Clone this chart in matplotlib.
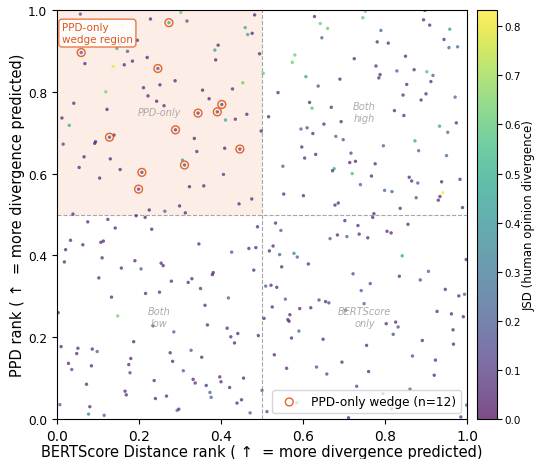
import numpy as np
import matplotlib
matplotlib.use("Agg")
import matplotlib.pyplot as plt

# upper-left quadrant (PPD high, BERTScore low)
ul_bert = [0.057, 0.302, 0.228, 0.273, 0.317, 0.482, 0.159, 0.459, 0.465, 0.476,
           0.196, 0.153, 0.393, 0.385, 0.146, 0.172, 0.059, 0.494, 0.220, 0.184,
           0.387, 0.068, 0.164, 0.137, 0.246, 0.288, 0.251, 0.453, 0.211, 0.428,
           0.355, 0.119, 0.222, 0.371, 0.041, 0.243, 0.402, 0.261, 0.122, 0.391,
           0.344, 0.463, 0.012, 0.411, 0.435, 0.030, 0.289, 0.498, 0.139, 0.128,
           0.335, 0.094, 0.092, 0.015, 0.409, 0.446, 0.341, 0.066, 0.130, 0.306,
           0.311, 0.054, 0.154, 0.207, 0.406, 0.104, 0.358, 0.199, 0.323, 0.475,
           0.444, 0.225, 0.263, 0.299, 0.313, 0.039]
ul_ppd = [0.990, 0.994, 0.978, 0.969, 0.973, 0.988, 0.961, 0.957, 0.940, 0.943,
          0.926, 0.917, 0.914, 0.902, 0.906, 0.899, 0.896, 0.893, 0.884, 0.875,
          0.878, 0.869, 0.866, 0.862, 0.857, 0.827, 0.817, 0.822, 0.810, 0.807,
          0.804, 0.800, 0.790, 0.783, 0.772, 0.777, 0.769, 0.766, 0.757, 0.751,
          0.748, 0.745, 0.736, 0.731, 0.733, 0.718, 0.707, 0.704, 0.694, 0.689,
          0.686, 0.678, 0.674, 0.672, 0.662, 0.660, 0.654, 0.641, 0.636, 0.633,
          0.621, 0.615, 0.610, 0.603, 0.598, 0.589, 0.570, 0.562, 0.568, 0.538,
          0.526, 0.511, 0.508, 0.521, 0.504, 0.501]
ul_jsd = [0.20, 0.62, 0.06, 0.48, 0.18, 0.05, 0.70, 0.50, 0.48, 0.06,
          0.05, 0.10, 0.07, 0.47, 0.52, 0.22, 0.20, 0.06, 0.05, 0.07,
          0.05, 0.06, 0.06, 0.82, 0.18, 0.05, 0.06, 0.62, 0.07, 0.08,
          0.05, 0.65, 0.06, 0.05, 0.07, 0.05, 0.15, 0.08, 0.05, 0.15,
          0.12, 0.07, 0.06, 0.50, 0.08, 0.52, 0.12, 0.06, 0.06, 0.15,
          0.07, 0.05, 0.06, 0.12, 0.06, 0.14, 0.07, 0.06, 0.06, 0.48,
          0.16, 0.06, 0.06, 0.16, 0.12, 0.06, 0.06, 0.14, 0.06, 0.07,
          0.06, 0.06, 0.25, 0.06, 0.06, 0.06]
# items of the upper-left lists that form the PPD-only wedge
wedge_idx = [3, 16, 24, 36, 39, 40, 46, 49, 55, 60, 63, 67]

# upper-right quadrant (both high)
ur_bert = [0.503, 0.752, 0.897, 0.628, 0.746, 0.894, 0.642, 0.909, 0.660, 0.958,
           0.790, 0.646, 0.944, 0.781, 0.808, 0.956, 0.977, 0.580, 0.850, 0.725,
           0.574, 0.778, 0.871, 0.829, 0.902, 0.788, 0.917, 0.785, 0.607, 0.690,
           0.912, 0.853, 0.637, 0.539, 0.900, 0.844, 0.971, 0.888, 0.616, 0.669,
           0.622, 0.823, 0.846, 0.516, 0.693, 0.974, 0.651, 0.610, 0.595, 0.933,
           0.624, 0.953, 0.680, 0.698, 0.873, 0.796, 0.597, 0.882, 0.717, 0.631,
           0.950, 0.604, 0.728, 0.714, 0.776, 0.551, 0.676, 0.672, 0.720, 0.767,
           0.859, 0.865, 0.880, 0.983, 0.938, 0.740, 0.799, 0.817, 0.941, 0.934,
           0.553, 0.601, 0.876, 0.930, 0.686, 0.678, 0.989, 0.837, 0.773]
ur_ppd = [0.845, 0.997, 0.999, 0.984, 0.981, 0.976, 0.967, 0.963, 0.955, 0.953,
          0.950, 0.932, 0.928, 0.922, 0.919, 0.908, 0.910, 0.890, 0.887, 0.881,
          0.872, 0.863, 0.854, 0.851, 0.849, 0.842, 0.840, 0.834, 0.837, 0.831,
          0.825, 0.818, 0.814, 0.798, 0.795, 0.792, 0.787, 0.780, 0.774, 0.762,
          0.760, 0.754, 0.742, 0.739, 0.727, 0.724, 0.721, 0.712, 0.709, 0.716,
          0.698, 0.701, 0.691, 0.683, 0.680, 0.668, 0.665, 0.656, 0.650, 0.647,
          0.644, 0.638, 0.630, 0.627, 0.624, 0.618, 0.612, 0.607, 0.600, 0.594,
          0.591, 0.582, 0.577, 0.586, 0.580, 0.573, 0.559, 0.556, 0.553, 0.544,
          0.550, 0.546, 0.541, 0.535, 0.528, 0.523, 0.517, 0.515, 0.502]
ur_jsd = [0.60, 0.62, 0.06, 0.06, 0.60, 0.06, 0.62, 0.07, 0.62, 0.47,
          0.25, 0.25, 0.06, 0.06, 0.06, 0.22, 0.27, 0.62, 0.06, 0.06,
          0.62, 0.06, 0.07, 0.22, 0.58, 0.06, 0.24, 0.06, 0.47, 0.06,
          0.07, 0.06, 0.17, 0.06, 0.06, 0.07, 0.24, 0.07, 0.06, 0.06,
          0.58, 0.06, 0.06, 0.06, 0.06, 0.07, 0.06, 0.17, 0.24, 0.47,
          0.06, 0.25, 0.24, 0.17, 0.48, 0.24, 0.06, 0.25, 0.14, 0.06,
          0.24, 0.06, 0.06, 0.06, 0.06, 0.22, 0.50, 0.06, 0.55, 0.06,
          0.06, 0.07, 0.22, 0.06, 0.06, 0.22, 0.24, 0.22, 0.83, 0.06,
          0.06, 0.06, 0.20, 0.06, 0.06, 0.06, 0.06, 0.06, 0.06]

# lower-left quadrant (both low)
ll_bert = [0.193, 0.215, 0.075, 0.124, 0.142, 0.231, 0.489, 0.033, 0.063, 0.107,
           0.113, 0.346, 0.021, 0.468, 0.485, 0.426, 0.110, 0.018, 0.190, 0.254,
           0.259, 0.157, 0.205, 0.480, 0.381, 0.379, 0.102, 0.279, 0.329, 0.320,
           0.350, 0.250, 0.216, 0.418, 0.133, 0.361, 0.003, 0.148, 0.234, 0.367,
           0.415, 0.285, 0.491, 0.441, 0.424, 0.433, 0.187, 0.010, 0.051, 0.086,
           0.098, 0.327, 0.048, 0.276, 0.353, 0.180, 0.282, 0.028, 0.175, 0.084,
           0.036, 0.178, 0.308, 0.397, 0.455, 0.332, 0.237, 0.400, 0.337, 0.072,
           0.364, 0.421, 0.166, 0.169, 0.373, 0.267, 0.376, 0.240, 0.450, 0.439,
           0.007, 0.080, 0.297, 0.293, 0.077, 0.115, 0.471]
ll_ppd = [0.497, 0.493, 0.482, 0.488, 0.467, 0.464, 0.470, 0.437, 0.426, 0.432,
          0.435, 0.428, 0.414, 0.417, 0.419, 0.408, 0.394, 0.384, 0.387, 0.381,
          0.375, 0.369, 0.367, 0.364, 0.358, 0.353, 0.345, 0.337, 0.343, 0.334,
          0.319, 0.310, 0.307, 0.296, 0.298, 0.278, 0.260, 0.252, 0.228, 0.230,
          0.222, 0.213, 0.204, 0.209, 0.201, 0.186, 0.189, 0.177, 0.173, 0.171,
          0.165, 0.168, 0.160, 0.162, 0.151, 0.148, 0.141, 0.136, 0.133, 0.130,
          0.121, 0.113, 0.118, 0.103, 0.100, 0.097, 0.094, 0.091, 0.088, 0.085,
          0.082, 0.077, 0.068, 0.059, 0.065, 0.056, 0.053, 0.050, 0.047, 0.039,
          0.035, 0.030, 0.024, 0.021, 0.012, 0.009, 0.015]
ll_jsd = [0.06, 0.06, 0.06, 0.06, 0.06, 0.06, 0.06, 0.06, 0.06, 0.06,
          0.06, 0.06, 0.06, 0.06, 0.06, 0.18, 0.06, 0.06, 0.06, 0.06,
          0.06, 0.06, 0.22, 0.06, 0.06, 0.06, 0.06, 0.06, 0.06, 0.06,
          0.07, 0.06, 0.06, 0.22, 0.06, 0.06, 0.06, 0.65, 0.07, 0.06,
          0.06, 0.22, 0.06, 0.06, 0.06, 0.06, 0.06, 0.07, 0.06, 0.06,
          0.22, 0.22, 0.06, 0.06, 0.06, 0.06, 0.07, 0.06, 0.06, 0.06,
          0.15, 0.15, 0.22, 0.06, 0.06, 0.06, 0.06, 0.06, 0.06, 0.06,
          0.06, 0.06, 0.06, 0.06, 0.22, 0.06, 0.22, 0.06, 0.06, 0.06,
          0.22, 0.06, 0.06, 0.30, 0.35, 0.22, 0.22]

# lower-right quadrant (BERTScore only)
lr_bert = [0.500, 0.770, 0.505, 0.533, 0.702, 0.734, 0.856, 0.546, 0.805, 0.815,
           0.737, 0.684, 0.707, 0.758, 0.666, 0.527, 0.518, 0.543, 0.578, 0.586,
           0.842, 0.998, 0.613, 0.548, 0.906, 0.722, 0.835, 0.886, 0.764, 0.509,
           0.522, 0.536, 0.947, 0.742, 0.994, 0.980, 0.557, 0.639, 0.655, 0.663,
           0.749, 0.525, 0.619, 0.592, 0.704, 0.927, 0.568, 0.962, 0.991, 0.563,
           0.566, 0.803, 0.826, 0.832, 0.966, 0.590, 0.820, 0.572, 0.649, 0.891,
           0.967, 0.755, 0.530, 0.867, 0.923, 0.695, 0.633, 0.560, 0.760, 0.658,
           0.920, 0.731, 0.861, 0.999, 0.512, 0.985, 0.711, 0.795, 0.816, 0.585]
lr_ppd = [0.070, 0.493, 0.246, 0.479, 0.485, 0.473, 0.476, 0.461, 0.459, 0.455,
          0.452, 0.450, 0.446, 0.443, 0.441, 0.423, 0.411, 0.402, 0.405, 0.396,
          0.399, 0.390, 0.379, 0.372, 0.361, 0.355, 0.349, 0.340, 0.331, 0.325,
          0.327, 0.322, 0.317, 0.314, 0.305, 0.301, 0.293, 0.291, 0.287, 0.284,
          0.282, 0.274, 0.272, 0.270, 0.266, 0.263, 0.255, 0.257, 0.250, 0.243,
          0.239, 0.233, 0.237, 0.225, 0.218, 0.215, 0.207, 0.198, 0.195, 0.192,
          0.183, 0.180, 0.157, 0.154, 0.144, 0.139, 0.127, 0.124, 0.116, 0.110,
          0.107, 0.080, 0.073, 0.034, 0.018, 0.005, 0.003, 0.062, 0.025, 0.040]
lr_jsd = [0.22, 0.06, 0.06, 0.06, 0.06, 0.06, 0.06, 0.22, 0.06, 0.06,
          0.06, 0.06, 0.22, 0.06, 0.22, 0.06, 0.06, 0.22, 0.35, 0.22,
          0.47, 0.06, 0.06, 0.06, 0.22, 0.15, 0.06, 0.15, 0.15, 0.22,
          0.06, 0.06, 0.06, 0.22, 0.22, 0.06, 0.22, 0.15, 0.06, 0.15,
          0.22, 0.06, 0.06, 0.06, 0.15, 0.06, 0.06, 0.06, 0.06, 0.06,
          0.06, 0.06, 0.06, 0.15, 0.06, 0.25, 0.15, 0.06, 0.06, 0.06,
          0.06, 0.06, 0.06, 0.15, 0.06, 0.06, 0.15, 0.06, 0.06, 0.15,
          0.06, 0.15, 0.22, 0.22, 0.15, 0.06, 0.06, 0.06, 0.06, 0.15]

jsd_max = 0.833
wedge_color = "#e8632b"

bert = np.array(ul_bert + ur_bert + ll_bert + lr_bert)
ppd = np.array(ul_ppd + ur_ppd + ll_ppd + lr_ppd)
jsd = np.array(ul_jsd + ur_jsd + ll_jsd + lr_jsd)

fig = plt.figure(figsize=(5.35, 4.6), dpi=100)
ax = fig.add_axes([57 / 535, 40 / 460, 410 / 535, 409 / 460])
cax = fig.add_axes([477 / 535, 40 / 460, 20 / 535, 409 / 460])

# shaded PPD-only region
ax.fill_between([0, 0.5], 0.5, 1.0, color="#e6550d", alpha=0.1, lw=0, zorder=0)
ax.axvline(0.5, color="gray", ls="--", lw=0.8, alpha=0.7, zorder=1)
ax.axhline(0.5, color="gray", ls="--", lw=0.8, alpha=0.7, zorder=1)

sc = ax.scatter(bert, ppd, c=jsd, cmap="viridis", vmin=0, vmax=jsd_max,
                s=6, alpha=0.7, edgecolors="none", zorder=2)

wx = [ul_bert[i] for i in wedge_idx]
wy = [ul_ppd[i] for i in wedge_idx]
ax.scatter(wx, wy, s=32, facecolors="none", edgecolors=wedge_color,
           linewidths=1.0, zorder=3, label="PPD-only wedge (n=%d)" % len(wx))

lab_kw = dict(color="#aaaaaa", fontsize=7, style="italic", ha="center", va="center")
ax.text(0.25, 0.75, "PPD-only", **lab_kw)
ax.text(0.75, 0.75, "Both\nhigh", **lab_kw)
ax.text(0.25, 0.25, "Both\nlow", **lab_kw)
ax.text(0.75, 0.25, "BERTScore\nonly", **lab_kw)

ax.text(0.012, 0.97, "PPD-only\nwedge region", transform=ax.transAxes,
        ha="left", va="top", fontsize=7.5, color="#d9581f",
        bbox=dict(boxstyle="round,pad=0.3", fc="white", ec=wedge_color, alpha=0.85))

ax.set_xlim(0, 1)
ax.set_ylim(0, 1)
ax.set_xlabel("BERTScore Distance rank ( \u2191  = more divergence predicted)",
              fontsize=10.5, labelpad=1)
ax.set_ylabel("PPD rank ( \u2191  = more divergence predicted)", fontsize=10.5,
              labelpad=2)
ax.tick_params(axis="x", labelsize=10)
ax.tick_params(axis="y", labelsize=8.7)
ax.legend(loc="lower right", fontsize=8.7)

cb = fig.colorbar(sc, cax=cax)
cb.solids.set_alpha(0.7)
cb.set_label("JSD (human opinion divergence)", fontsize=8.5, labelpad=1)
cb.ax.tick_params(labelsize=7.5, pad=2)

plt.savefig("out.png", dpi=100)
